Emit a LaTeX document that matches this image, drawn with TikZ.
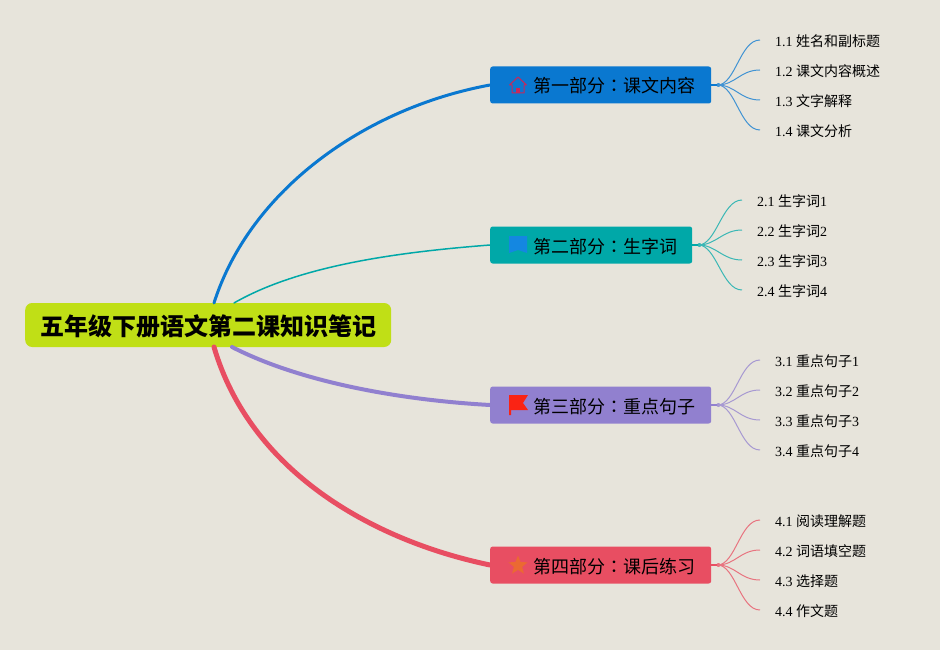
\documentclass[tikz,border=0pt]{standalone}
\usepackage{fontspec}
\setmainfont{Liberation Serif}
\newfontfamily\cjk{Noto Sans CJK SC}
\newfontfamily\cjktc{Noto Sans CJK TC}
\usetikzlibrary{shapes.geometric,calc}
\definecolor{bgc}{HTML}{E7E4DB}
\definecolor{rootc}{HTML}{C0DF16}
\definecolor{cblue}{HTML}{0A78D0}
\definecolor{cteal}{HTML}{00A8A8}
\definecolor{cpurple}{HTML}{9180CF}
\definecolor{cred}{HTML}{E84E62}
\definecolor{ichouse}{RGB}{200,40,90}
\definecolor{icblue}{RGB}{20,135,225}
\definecolor{icflag}{RGB}{250,35,20}
\definecolor{icstar}{RGB}{235,105,50}
\newcommand{\cn}{{\cjktc ：}}
\tikzset{
  rootbox/.style={fill=rootc,rounded corners=7pt,minimum width=366pt,minimum height=44pt,inner sep=0pt,anchor=west,text height=21.6pt,text depth=0pt,font=\cjk\bfseries\fontsize{24}{24}\selectfont},
  branchbox/.style={rounded corners=2.5pt,minimum height=37pt,inner xsep=0pt,inner ysep=0pt,anchor=west,align=left,text height=16pt,text depth=0pt,font=\cjk\fontsize{18}{18}\selectfont},
  leafbox/.style={anchor=west,inner xsep=15pt,inner ysep=2pt,font=\fontsize{14}{14}\selectfont},
  mainlink/.style={line cap=round},
  leaflink/.style={line width=1pt}
}
\begin{document}
\begin{tikzpicture}[x=1pt,y=-1pt]
\fill[bgc] (0,0) rectangle (940,650);
\useasboundingbox (0,0) rectangle (940,650);
\node[rootbox] (root) at (25,325) {五年级下册语文第二课知识笔记};
\coordinate (r1) at (214,303);
\coordinate (r2) at (234,303);
\coordinate (r3) at (232,347);
\coordinate (r4) at (214,347);
\node[branchbox,fill=cblue,text width=221pt] (b1) at (490,85) {\hspace*{43pt}第一部分\cn 课文内容};
\node[branchbox,fill=cteal,text width=202pt] (b2) at (490,245) {\hspace*{43pt}第二部分\cn 生字词};
\node[branchbox,fill=cpurple,text width=221pt] (b3) at (490,405) {\hspace*{43pt}第三部分\cn 重点句子};
\node[branchbox,fill=cred,text width=221pt] (b4) at (490,565) {\hspace*{43pt}第四部分\cn 课后练习};
\draw[mainlink,cblue,line width=3pt] (r1) .. controls (250,190) and (365,108) .. (b1.west);
\draw[mainlink,cteal,line width=1.5pt] (r2) .. controls (300,265) and (400,252) .. (b2.west);
\draw[mainlink,cpurple,line width=4pt] (r3) .. controls (300,382) and (400,400) .. (b3.west);
\draw[mainlink,cred,line width=5pt] (r4) .. controls (250,470) and (370,540) .. (b4.west);
% icons
\draw[line width=1pt,ichouse,line join=round] (512,93) -- (512,85) -- (509.5,85) -- (518,77) -- (526.5,85) -- (524,85) -- (524,93) -- cycle;
\fill[ichouse] (516,93) rectangle (520,88);
\fill[icblue] (509,236) -- (527,236) -- (527,253) -- (518,250) -- (509,253) -- cycle;
\fill[icflag] (509,395) -- (528,395) -- (523,403) -- (528,410) -- (511,410) -- (511,415) -- (509,415) -- cycle;
\node[star,star points=5,star point ratio=2.3,fill=icstar,inner sep=0pt,minimum size=20pt] (s4) at (518,565.5) {};
% leaves
\foreach \nm/\x/\y/\t in {
 l11/760/41/{1.1 {\cjk 姓名和副标题}}, l12/760/71/{1.2 {\cjk 课文内容概述}}, l13/760/101/{1.3 {\cjk 文字解释}}, l14/760/131/{1.4 {\cjk 课文分析}},
 l21/742/201/{2.1 {\cjk 生字词}1}, l22/742/231/{2.2 {\cjk 生字词}2}, l23/742/261/{2.3 {\cjk 生字词}3}, l24/742/291/{2.4 {\cjk 生字词}4},
 l31/760/361/{3.1 {\cjk 重点句子}1}, l32/760/391/{3.2 {\cjk 重点句子}2}, l33/760/421/{3.3 {\cjk 重点句子}3}, l34/760/451/{3.4 {\cjk 重点句子}4},
 l41/760/521/{4.1 {\cjk 阅读理解题}}, l42/760/551/{4.2 {\cjk 词语填空题}}, l43/760/581/{4.3 {\cjk 选择题}}, l44/760/611/{4.4 {\cjk 作文题}}}
 {\node[leafbox] (\nm) at (\x,\y) {\t};}
\foreach \b/\c in {1/cblue,2/cteal,3/cpurple,4/cred}{
  \fill[\c!75!bgc] ($(b\b.east)+(7,0)$) circle (2pt);
  \draw[\c,line width=1.2pt] (b\b.east) -- ++(7,0);
  \foreach \k in {1,2,3,4}{
    \draw[\c!75!bgc,leaflink] ($(b\b.east)+(6,0)$) .. controls ($(b\b.east)+(24,0)$) and ($(l\b\k.west)+(-20,-1)$) .. ($(l\b\k.west)+(0,-1)$);
  }
}
\end{tikzpicture}
\end{document}
